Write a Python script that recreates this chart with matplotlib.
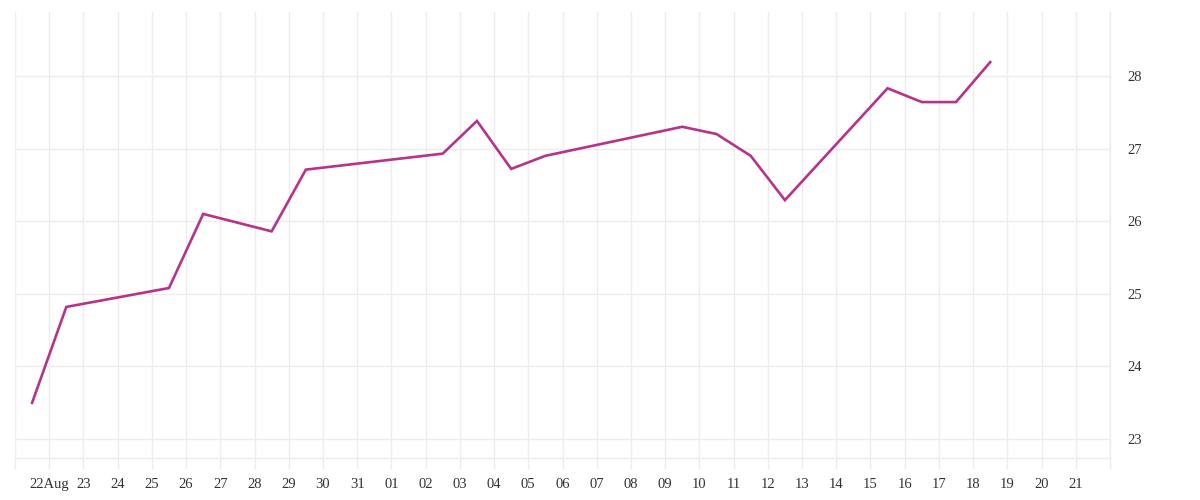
import matplotlib
matplotlib.use("Agg")
import matplotlib.pyplot as plt
import numpy as np
import pandas as pd

# data (points sit at midday)
dates = ["2023-08-21 12:00", "2023-08-22 12:00", "2023-08-25 12:00", "2023-08-26 12:00",
         "2023-08-28 12:00", "2023-08-29 12:00", "2023-09-02 12:00", "2023-09-03 12:00",
         "2023-09-04 12:00", "2023-09-05 12:00", "2023-09-09 12:00", "2023-09-10 12:00",
         "2023-09-11 12:00", "2023-09-12 12:00", "2023-09-15 12:00", "2023-09-16 12:00",
         "2023-09-17 12:00", "2023-09-18 12:00"]
values = [23.50, 24.82, 25.08, 26.10, 25.86, 26.71, 26.93, 27.38, 26.72, 26.90,
          27.30, 27.20, 26.90, 26.29, 27.83, 27.64, 27.64, 28.19]
y_ticks = [23, 24, 25, 26, 27, 28]

x = pd.to_datetime(dates)
grid_col = "#ececec"
line_col = "#b5338a"

plt.rcParams["font.family"] = ["Liberation Serif", "DejaVu Serif"]

fig = plt.figure(figsize=(12, 5), dpi=100)
ax = fig.add_axes([0.0125, 0.084, 0.9125, 0.892])

ax.plot(x, values, color=line_col, linewidth=1.9, solid_joinstyle="miter")

ax.set_xlim(pd.Timestamp("2023-08-21"), pd.Timestamp("2023-09-22"))
ax.set_ylim(22.74, 28.88)

# x ticks every day, label only 22 Aug .. 21 Sep
ticks = pd.date_range("2023-08-21", "2023-09-22", freq="D")
ax.set_xticks(ticks)
labels = []
for t in ticks:
    if t == ticks[0] or t == ticks[-1]:
        labels.append("")
    elif t == pd.Timestamp("2023-08-22"):
        labels.append("22Aug")
    else:
        labels.append(t.strftime("%d"))
ax.set_xticklabels(labels)

ax.yaxis.tick_right()
ax.set_yticks(y_ticks)
ax.grid(True, color=grid_col, linewidth=1)
ax.set_axisbelow(True)

for s in ["top", "left"]:
    ax.spines[s].set_visible(False)
for s in ["bottom", "right"]:
    ax.spines[s].set_color(grid_col)
    ax.spines[s].set_linewidth(1)

ax.tick_params(axis="x", length=8, color=grid_col, width=1, pad=6.5,
               labelsize=10.5, labelcolor="#333333")
ax.tick_params(axis="y", length=0, pad=12.5, labelsize=10.5, labelcolor="#333333")

fig.savefig("out.png", dpi=100, facecolor="white")
